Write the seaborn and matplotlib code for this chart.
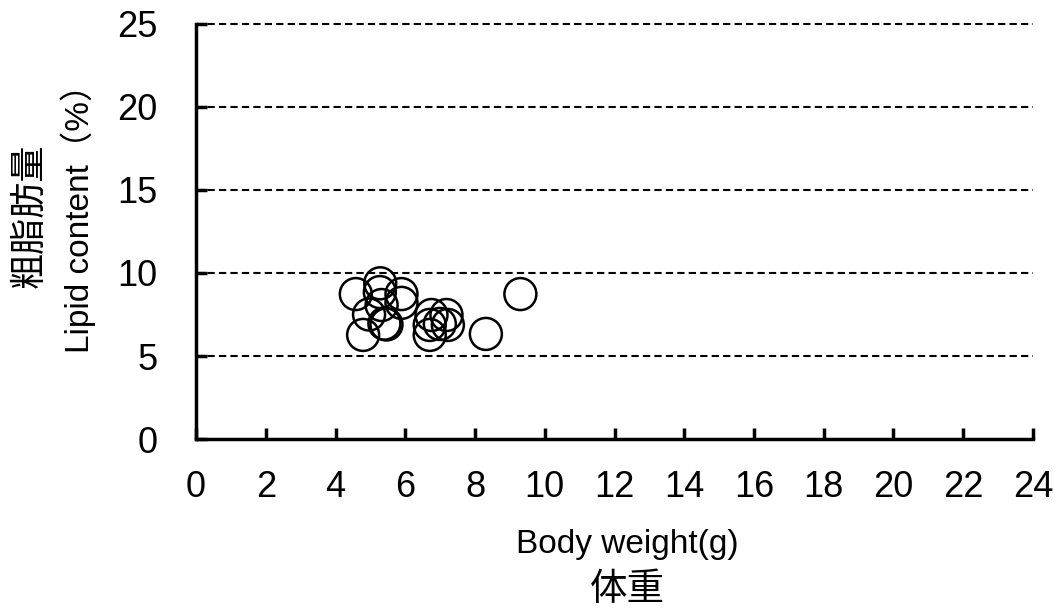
import matplotlib
matplotlib.use("Agg")
import matplotlib.pyplot as plt
import numpy as np
import pandas as pd
import seaborn as sns

# body weight (g) and lipid content (%)
body_weight = [4.58, 5.28, 5.27, 5.89, 5.89, 5.32, 4.96, 5.46, 5.40, 4.79,
               6.70, 7.18, 6.75, 6.99, 6.70, 7.22, 8.31, 9.30]
lipid = [8.73, 9.38, 8.85, 8.73, 8.20, 8.07, 7.50, 6.90, 6.95, 6.27,
         6.87, 7.47, 7.47, 6.93, 6.27, 6.87, 6.33, 8.73]
x_ticks = list(range(0, 25, 2))
y_ticks = list(range(0, 26, 5))

df = pd.DataFrame({'weight': body_weight, 'lipid': lipid})

sns.set_style('white', {'xtick.bottom': True, 'ytick.left': True,
                        'text.color': 'black', 'xtick.color': 'black',
                        'ytick.color': 'black', 'axes.labelcolor': 'black'})
plt.rcParams['font.family'] = ['Liberation Sans', 'Noto Sans CJK JP', 'DejaVu Sans']

fig = plt.figure(figsize=(10.6, 6.1), dpi=100)
ax = fig.add_axes([0.185, 0.2803, 0.7895, 0.6804])

# dashed gridlines
for yv in y_ticks[1:]:
    ax.axhline(yv, color='black', linestyle=(0, (3.5, 2)), linewidth=1.5,
               zorder=1, clip_on=False)

sns.scatterplot(data=df, x='weight', y='lipid', ax=ax, s=530, marker='o',
                facecolors='none', edgecolor='black', linewidth=1.8, zorder=3)

ax.set_xlim(0, 24)
ax.set_ylim(0, 25)
ax.set_xticks(x_ticks)
ax.set_yticks(y_ticks)
ax.tick_params(direction='in', length=8, width=2.5, labelsize=26, colors='black')
ax.tick_params(axis='x', pad=22)
ax.tick_params(axis='y', pad=28)
for s in ['top', 'right']:
    ax.spines[s].set_visible(False)
for s in ['left', 'bottom']:
    ax.spines[s].set_linewidth(2.5)
    ax.spines[s].set_color('black')
ax.set_xlabel('')
ax.set_ylabel('')

fig.text(0.592, 0.107, 'Body weight(g)', ha='center', va='center', fontsize=24)
fig.text(0.592, 0.033, '体重', ha='center', va='center', fontsize=27)
fig.text(0.028, 0.647, '粗脂肪量', ha='center', va='center', rotation=90, fontsize=26)
fig.text(0.0736, 0.655, 'Lipid content（%）', ha='center', va='center', rotation=90, fontsize=24)

fig.savefig('out.png', dpi=100)
